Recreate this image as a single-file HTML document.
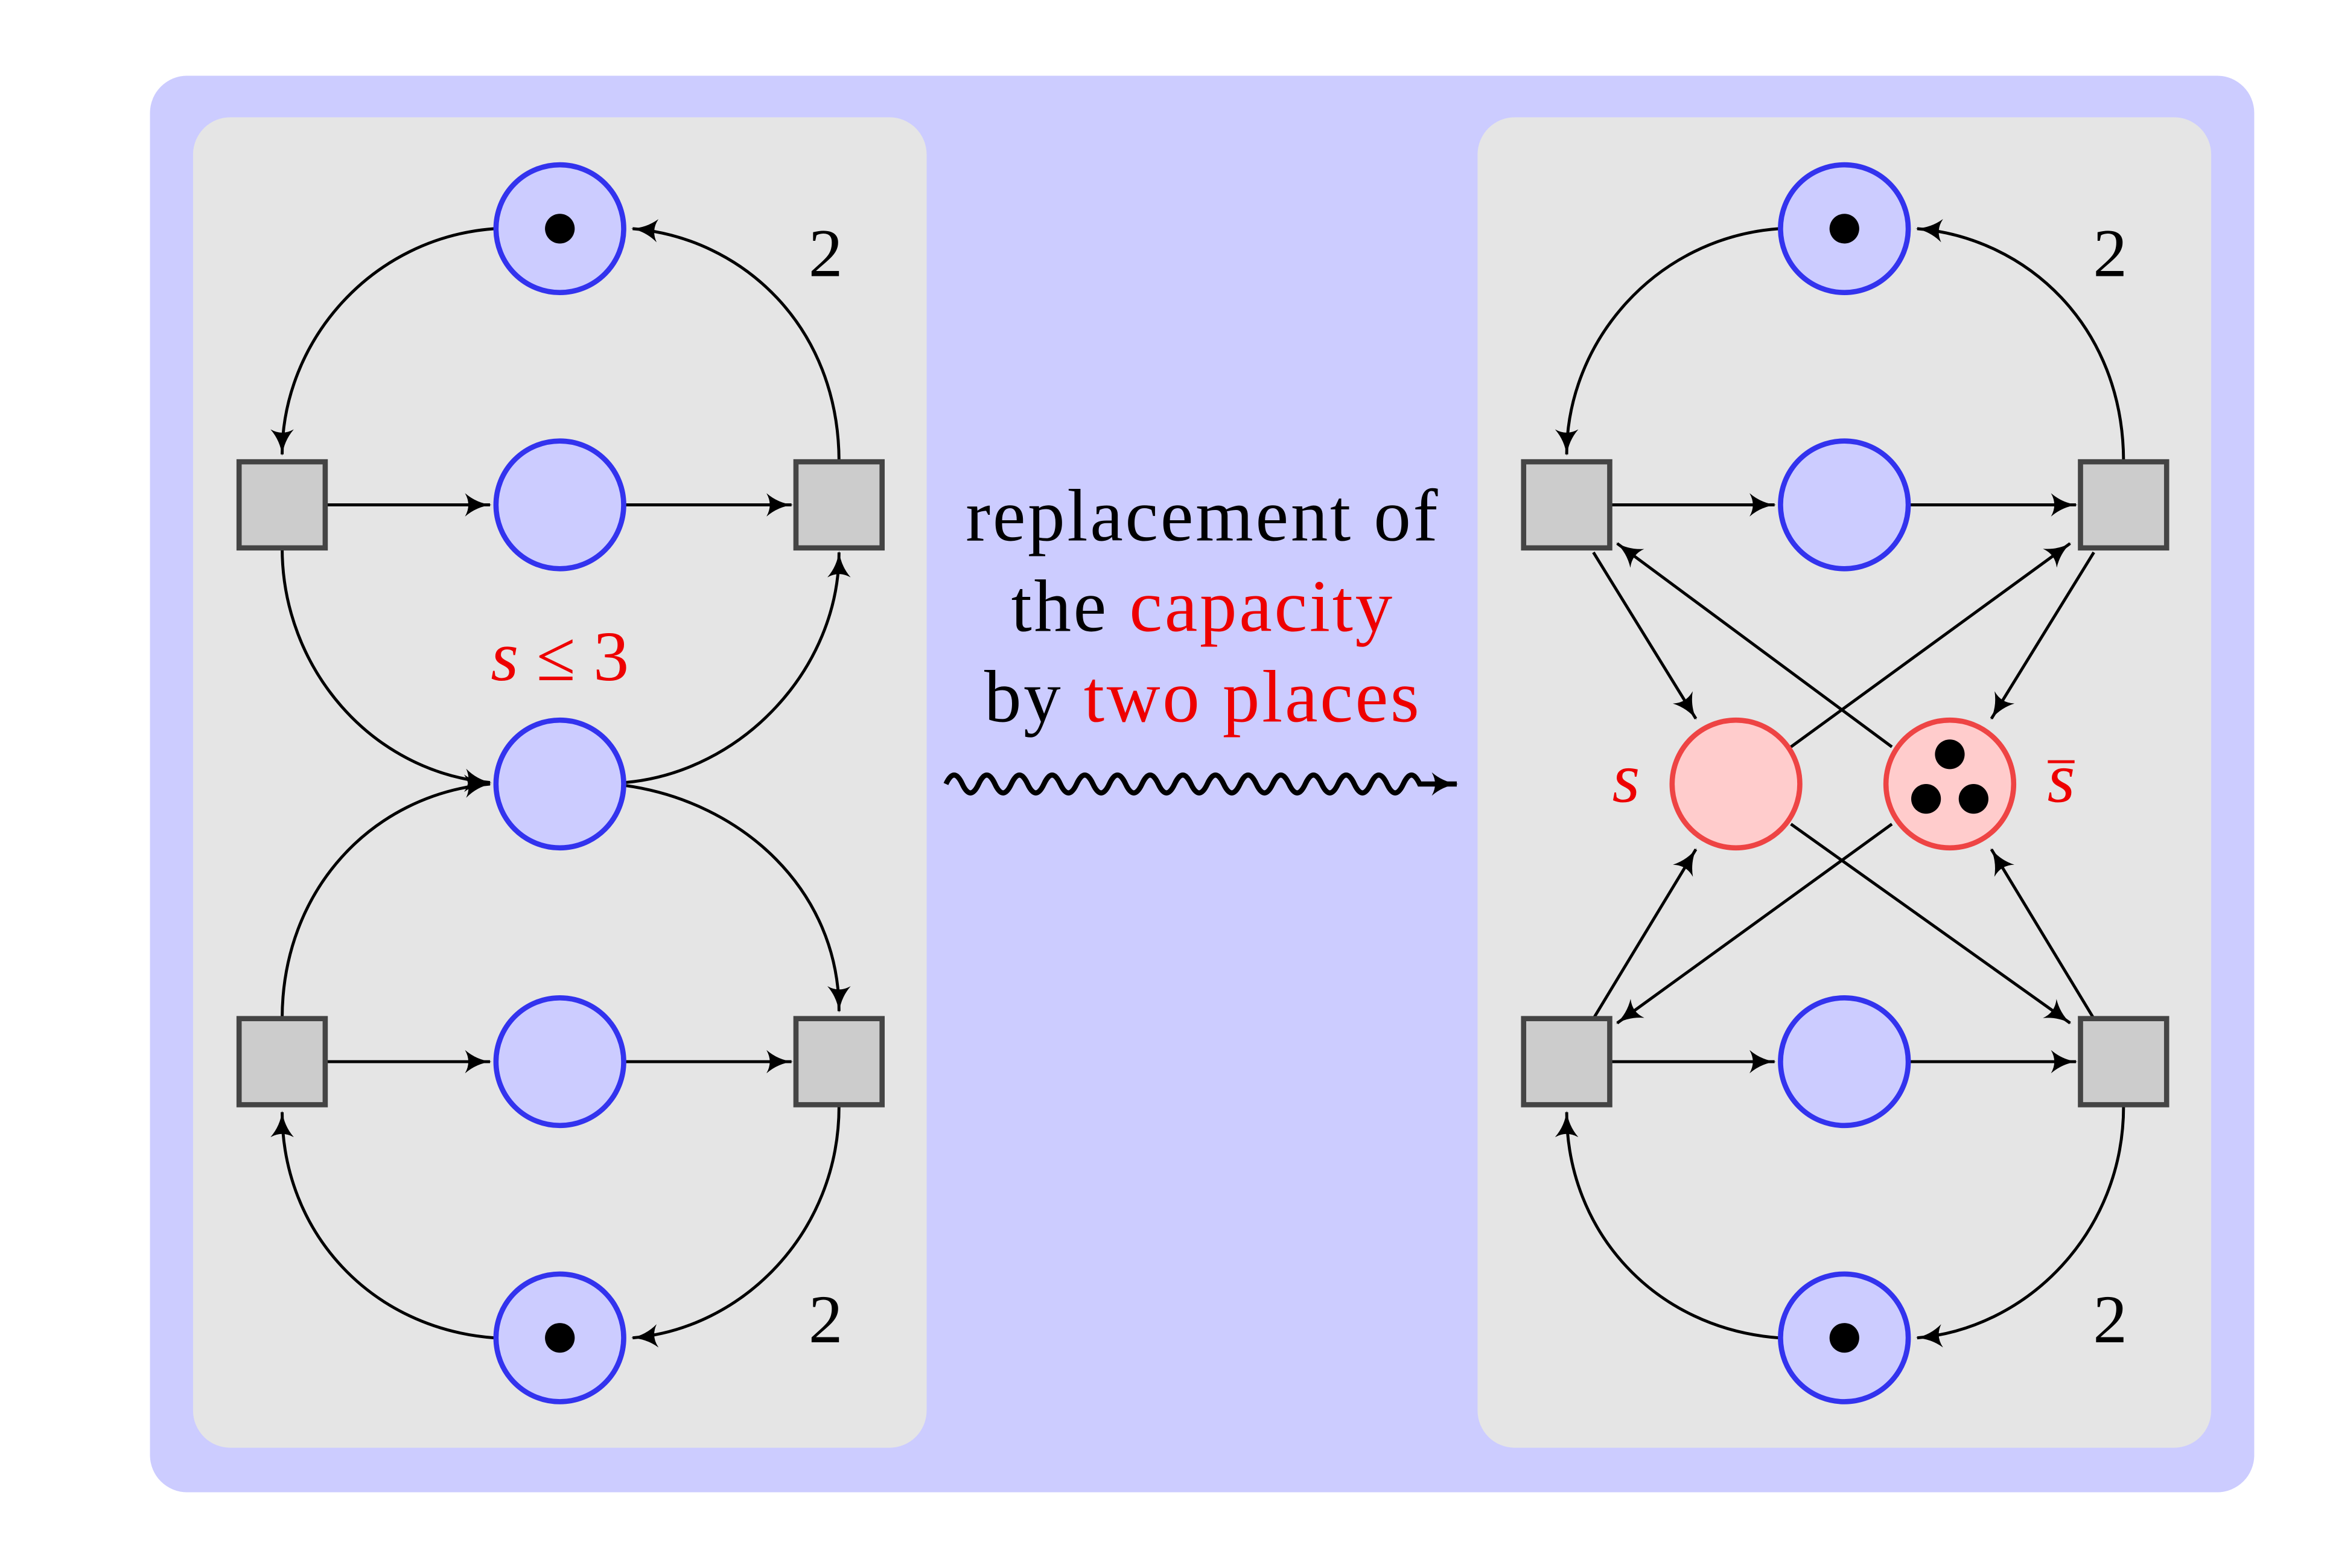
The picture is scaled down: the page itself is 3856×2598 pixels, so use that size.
<!DOCTYPE html>
<html><head><style>html,body{margin:0;padding:0;background:#fff}svg{display:block}</style></head><body>
<svg width="3856" height="2598" viewBox="0 0 1567 1056" preserveAspectRatio="none" xmlns="http://www.w3.org/2000/svg" font-family="Liberation Serif, serif">
<defs>
<marker id="a" viewBox="0 0 16 14" refX="15" refY="7" markerWidth="18" markerHeight="16" markerUnits="userSpaceOnUse" orient="auto">
<path d="M0,0 Q7,6 16,7 Q7,8 0,14 Q4,7 0,0Z" fill="#000"/>
</marker>
</defs>
<rect x="101" y="51" width="1417" height="954" rx="25" fill="#ccccff"/>
<rect x="130" y="79" width="494" height="896" rx="25" fill="#e5e5e5"/>
<rect x="995" y="79" width="494" height="896" rx="25" fill="#e5e5e5"/>
<g fill="none" stroke="#000" stroke-width="2" marker-end="url(#a)">
<path d="M333,154 C250,160 190,230 190,306"/>
<path d="M565,311 C565,220 500,160 426,154"/>
<path d="M219,340 L330,340"/><path d="M421,340 L533,340"/>
<path d="M190,369 C190,450 250,520 330,527"/>
<path d="M421,527 C500,520 565,450 565,372"/>
<path d="M190,686 C190,600 250,535 330,528"/>
<path d="M421,529 C500,540 565,600 565,681"/>
<path d="M219,715 L330,715"/><path d="M421,715 L533,715"/>
<path d="M333,901 C250,895 190,830 190,749"/>
<path d="M565,745 C565,830 500,895 426,901"/>
<path d="M1198,154 C1115,160 1055,230 1055,306"/>
<path d="M1430,311 C1430,220 1365,160 1291,154"/>
<path d="M1084,340 L1195,340"/><path d="M1286,340 L1398,340"/>
<path d="M1084,715 L1195,715"/><path d="M1286,715 L1398,715"/>
<path d="M1198,901 C1115,895 1055,830 1055,749"/>
<path d="M1430,745 C1430,830 1365,895 1291,901"/>
<path d="M1073,372 L1142,484"/>
<path d="M1274,503 L1089,366"/>
<path d="M1206,503 L1394,366"/>
<path d="M1410,372 L1341,484"/>
<path d="M1073,686 L1142,572"/>
<path d="M1274,555 L1089,689"/>
<path d="M1206,555 L1394,689"/>
<path d="M1410,686 L1341,572"/>
<path d="M637,528 q5.5,-12 11,0 t11,0 t11,0 t11,0 t11,0 t11,0 t11,0 t11,0 t11,0 t11,0 t11,0 t11,0 t11,0 t11,0 t11,0 t11,0 t11,0 t11,0 t11,0 t11,0 t11,0 t11,0 t11,0 t11,0 t11,0 t11,0 t11,0 t11,0 t11,0 l25,0" stroke-width="3.5"/>
</g>
<g stroke="#3333ee" stroke-width="3.5" fill="#ccccff">
<circle cx="377" cy="154" r="43"/><circle cx="377" cy="340" r="43"/><circle cx="377" cy="528" r="43"/><circle cx="377" cy="715" r="43"/><circle cx="377" cy="901" r="43"/>
<circle cx="1242" cy="154" r="43"/><circle cx="1242" cy="340" r="43"/><circle cx="1242" cy="715" r="43"/><circle cx="1242" cy="901" r="43"/>
</g>
<g stroke="#ee4444" stroke-width="3.5" fill="#ffcccc">
<circle cx="1169" cy="528" r="43"/><circle cx="1313" cy="528" r="43"/>
</g>
<g fill="#000">
<circle cx="377" cy="154" r="10"/><circle cx="377" cy="901" r="10"/>
<circle cx="1242" cy="154" r="10"/><circle cx="1242" cy="901" r="10"/>
<circle cx="1313" cy="508" r="10"/><circle cx="1297" cy="538" r="10"/><circle cx="1329" cy="538" r="10"/>
</g>
<g fill="#cccccc" stroke="#444" stroke-width="3.5">
<rect x="161" y="311" width="58" height="58"/><rect x="536" y="311" width="58" height="58"/>
<rect x="161" y="686" width="58" height="58"/><rect x="536" y="686" width="58" height="58"/>
<rect x="1026" y="311" width="58" height="58"/><rect x="1401" y="311" width="58" height="58"/>
<rect x="1026" y="686" width="58" height="58"/><rect x="1401" y="686" width="58" height="58"/>
</g>
<g font-size="46" fill="#000" text-anchor="middle">
<text x="556" y="186">2</text><text x="556" y="904">2</text>
<text x="1421" y="186">2</text><text x="1421" y="904">2</text>
<text x="377" y="458" fill="#ee0000" font-size="48"><tspan font-style="italic">s</tspan> ≤ 3</text>
<text x="1095" y="540" fill="#ee0000" font-style="italic" font-size="48">s</text>
<text x="1388" y="540" fill="#ee0000" font-style="italic" font-size="48">s</text>
<g font-size="50" letter-spacing="1.5">
<text x="810" y="364">replacement of</text>
<text x="810" y="425">the <tspan fill="#ee0000">capacity</tspan></text>
<text x="810" y="486">by <tspan fill="#ee0000">two places</tspan></text>
</g>
</g>
<line x1="1379" y1="513" x2="1397" y2="513" stroke="#ee0000" stroke-width="2"/>
</svg>
</body></html>
